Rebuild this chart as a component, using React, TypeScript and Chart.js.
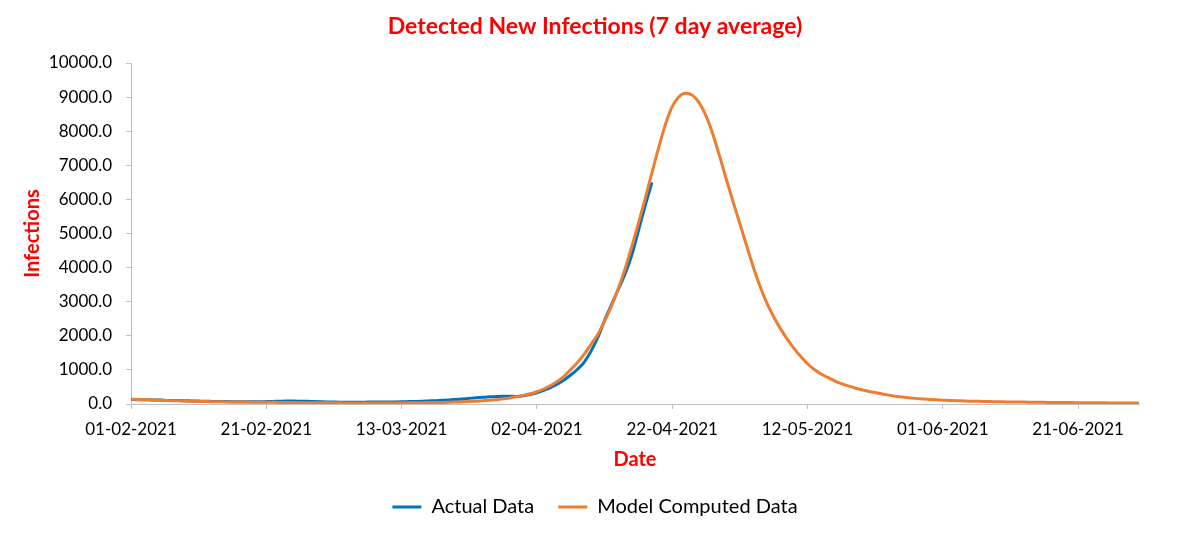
import React, { useEffect, useRef } from "react";
import { Chart, registerables } from "chart.js";

Chart.register(...registerables);

const TITLE = "Detected New Infections (7 day average)";
const X_TITLE = "Date";
const Y_TITLE = "Infections";
const SERIES_NAMES = ["Actual Data", "Model Computed Data"];

// daily categories 01-02-2021 .. 30-06-2021
const MONTH_DAYS: [string, number][] = [["02", 28], ["03", 31], ["04", 30], ["05", 31], ["06", 30]];
const dates: string[] = [];
for (const [m, n] of MONTH_DAYS) {
  for (let d = 1; d <= n; d++) dates.push(`${String(d).padStart(2, "0")}-${m}-2021`);
}

const actualData: (number | null)[] = [
  130, 128, 125, 120, 115, 110, 105, 100, 95, 90,
  85, 80, 76, 72, 70, 68, 66, 65, 65, 66,
  70, 75, 80, 85, 85, 82, 78, 72, 66, 60,
  56, 53, 52, 52, 53, 55, 57, 58, 60, 62,
  65, 70, 75, 82, 90, 98, 108, 120, 135, 150,
  165, 180, 195, 210, 222, 228, 225, 222, 240, 280,
  330, 400, 480, 580, 700, 850, 1020, 1230, 1550, 1950,
  2450, 2900, 3350, 3800, 4350, 5080, 5810, 6500,
];

const modelData: number[] = [
  140, 135, 128, 120, 112, 105, 98, 92, 86, 80,
  76, 72, 68, 65, 62, 59, 57, 55, 53, 51,
  50, 48, 46, 44, 42, 40, 38, 37, 36, 35,
  34, 33, 32, 31, 31, 30, 30, 30, 30, 31,
  32, 33, 35, 37, 40, 42, 45, 50, 56, 63,
  70, 80, 92, 108, 127, 150, 178, 212, 252, 300,
  360, 440, 540, 660, 810, 1010, 1220, 1460, 1750, 2040,
  2430, 2860, 3370, 3940, 4600, 5290, 6020, 6780, 7520, 8200,
  8720, 9010, 9110, 9050, 8830, 8450, 7920, 7270, 6590, 5930,
  5290, 4640, 4010, 3440, 2960, 2560, 2210, 1900, 1630, 1390,
  1180, 1010, 880, 780, 680, 600, 530, 470, 420, 375,
  335, 295, 260, 230, 205, 185, 165, 150, 135, 122,
  112, 104, 96, 90, 84, 79, 74, 70, 66, 63,
  60, 57, 55, 52, 50, 48, 46, 44, 42, 41,
  39, 38, 36, 35, 33, 32, 31, 29, 28, 27,
];

const Y_MAX = 10000;
const Y_STEP = 1000;
const X_TICK_EVERY = 20;

const FONT = "Lato, 'Open Sans', sans-serif";
const RED = "#FF0000";
const BLUE = "#0070C0";
const ORANGE = "#ED7D31";
const AXIS_GRAY = "#BFBFBF";

export default function App() {
  const ref = useRef<HTMLCanvasElement | null>(null);

  useEffect(() => {
    if (!ref.current) return;
    const actualPadded = dates.map((_, i) => (i < actualData.length ? actualData[i] : null));
    const chart = new Chart(ref.current, {
      type: "line",
      data: {
        labels: dates,
        datasets: [
          {
            label: SERIES_NAMES[0],
            data: actualPadded,
            borderColor: BLUE,
            backgroundColor: BLUE,
            borderWidth: 3,
            pointRadius: 0,
            cubicInterpolationMode: "monotone",
            fill: false,
            order: 1,
          },
          {
            label: SERIES_NAMES[1],
            data: modelData,
            borderColor: ORANGE,
            backgroundColor: ORANGE,
            borderWidth: 3,
            pointRadius: 0,
            cubicInterpolationMode: "monotone",
            fill: false,
            order: 0,
          },
        ],
      },
      options: {
        responsive: false,
        animation: false,
        layout: { padding: { left: 10, right: 20, top: 0, bottom: 6 } },
        plugins: {
          tooltip: { enabled: false },
          title: {
            display: true,
            text: TITLE,
            color: RED,
            font: { family: FONT, size: 23, weight: "bold" },
            padding: { top: 13.2, bottom: 22.2 },
          },
          legend: {
            display: true,
            position: "bottom",
            labels: {
              color: "#000",
              font: { family: FONT, size: 20 },
              boxWidth: 29,
              boxHeight: 3,
              padding: 24,
              sort: (a: any, b: any) => a.datasetIndex - b.datasetIndex,
              generateLabels: (c: any) =>
                Chart.defaults.plugins.legend.labels.generateLabels(c).map((it: any) => ({
                  ...it,
                  lineWidth: 0,
                  fillStyle: it.strokeStyle,
                })),
            },
          },
        },
        scales: {
          x: {
            type: "category",
            offset: false,
            grid: { drawOnChartArea: false, drawTicks: true, tickLength: 5, color: AXIS_GRAY },
            border: { color: AXIS_GRAY, width: 1 },
            ticks: {
              autoSkip: false,
              maxRotation: 0,
              minRotation: 0,
              color: "#000",
              padding: 10,
              font: { family: FONT, size: 17 },
              callback: function (this: any, _v: any, i: number) {
                return i % X_TICK_EVERY === 0 ? dates[i] : null;
              },
            },
            title: {
              display: true,
              text: X_TITLE,
              color: RED,
              font: { family: FONT, size: 20, weight: "bold" },
              padding: { top: 0, bottom: 1 },
            },
            afterFit: (s: any) => {
              s.height = 69;
              s.paddingRight = 61;
            },
          },
          y: {
            min: 0,
            max: Y_MAX,
            grid: { drawOnChartArea: false, drawTicks: true, tickLength: 5, color: AXIS_GRAY },
            border: { color: AXIS_GRAY, width: 1 },
            ticks: {
              stepSize: Y_STEP,
              color: "#000",
              padding: 14,
              font: { family: FONT, size: 17 },
              callback: (v: any) => Number(v).toFixed(1),
            },
            title: {
              display: true,
              text: Y_TITLE,
              color: RED,
              font: { family: FONT, size: 20, weight: "bold" },
              padding: { top: 11, bottom: 0 },
            },
            afterFit: (s: any) => {
              s.width = 121;
            },
          },
        },
      },
    });
    return () => chart.destroy();
  }, []);

  return (
    <div style={{ position: "absolute", left: 0, top: 0, width: 1200, height: 533, background: "#fff" }}>
      <canvas ref={ref} width={1200} height={533} />
    </div>
  );
}
